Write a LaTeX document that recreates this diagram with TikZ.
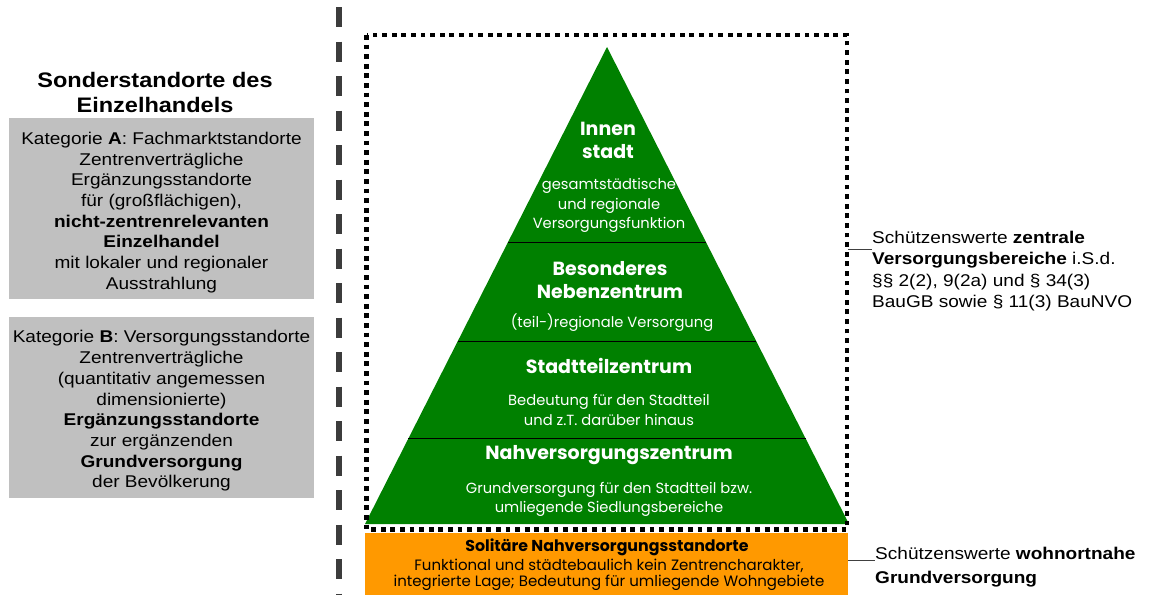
\documentclass[tikz,border=0pt]{standalone}
\usepackage{fontspec}
\setmainfont[FakeStretch=1.12]{Liberation Sans}
\newfontfamily\pyr{Poppins}
\usetikzlibrary{calc}
\definecolor{pgreen}{RGB}{0,128,0}
\definecolor{porange}{RGB}{255,153,0}
\definecolor{boxgray}{RGB}{192,192,192}
\definecolor{dashgray}{RGB}{60,60,60}
\begin{document}
\begin{tikzpicture}[x=1pt,y=-1pt,
  title/.style={align=center,font=\bfseries\fontsize{21}{25}\selectfont},
  graybox/.style={fill=boxgray,minimum width=305pt,minimum height=181pt,inner sep=0pt},
  boxtext/.style={align=center,inner sep=0pt,font=\fontsize{17}{20.7}\selectfont},
  sidetext/.style={align=left,font=\fontsize{17}{21.4}\selectfont,inner sep=0pt},
  pyrhead/.style={text=white,align=center,font=\pyr\bfseries\fontsize{19}{23}\selectfont},
  pyrtext/.style={text=white,align=center,font=\pyr\fontsize{14.7}{19.5}\selectfont},
  orhead/.style={align=center,font=\pyr\bfseries\fontsize{15.8}{18}\selectfont},
  ortext/.style={align=center,font=\pyr\fontsize{15}{16}\selectfont},
  sepline/.style={line width=1.1pt,black},
  leader/.style={line width=0.9pt,black!75},
  frame/.style={line width=4.6pt,dash pattern=on 4.8pt off 4.8pt},
  divider/.style={line width=5.5pt,dashgray,dash pattern=on 20pt off 14.5pt}
]
\useasboundingbox (0,0) rectangle (1154,595);

% left divider
\coordinate (dtop) at (339,7);
\coordinate (dbot) at (339,595);
\draw[divider] (dtop) -- (dbot);

% left column
\node[title] (ttl) at (155,92.5) {Sonderstandorte des\\Einzelhandels};
\node[graybox] (boxA) at (161.5,208.5) {};
\node[boxtext] (boxAtext) at ($(boxA.center)+(0,4)$) {Kategorie \textbf{A}: Fachmarktstandorte\\Zentrenverträgliche\\Ergänzungsstandorte\\für (großflächigen),\\\textbf{nicht-zentrenrelevanten}\\\textbf{Einzelhandel}\\mit lokaler und regionaler\\Ausstrahlung};
\node[graybox] (boxB) at (161.5,407.5) {};
\node[boxtext] (boxBtext) at ($(boxB.center)+(0,3.5)$) {Kategorie \textbf{B}: Versorgungsstandorte\\Zentrenverträgliche\\(quantitativ angemessen\\dimensionierte)\\\textbf{Ergänzungsstandorte}\\zur ergänzenden\\\textbf{Grundversorgung}\\der Bevölkerung};

% pyramid
\coordinate (apex) at (607,47);
\coordinate (bl) at (365,524);
\coordinate (br) at (849,524);
\fill[pgreen] (bl) -- (apex) -- (br) -- cycle;
\draw[sepline] ($(apex)!0.4097!(bl)$) -- ($(apex)!0.4097!(br)$);
\draw[sepline] ($(apex)!0.6176!(bl)$) -- ($(apex)!0.6176!(br)$);
\draw[sepline] ($(apex)!0.8214!(bl)$) -- ($(apex)!0.8214!(br)$);

\node[pyrhead] (innen) at (608,140) {Innen\\stadt};
\node[pyrtext] (innenT) at (609,205.5) {gesamtstädtische\\und regionale\\Versorgungsfunktion};
\node[pyrhead] (neben) at (610,280) {Besonderes\\Nebenzentrum};
\node[pyrtext] (nebenT) at (612,323) {(teil-)regionale Versorgung};
\node[pyrhead] (stz) at (609,366) {Stadtteilzentrum};
\node[pyrtext] (stzT) at (609,410) {Bedeutung für den Stadtteil\\und z.T. darüber hinaus};
\node[pyrhead] (nvz) at (609,455) {Nahversorgungszentrum};
\node[pyrtext] (nvzT) at (609,499.5) {Grundversorgung für den Stadtteil bzw.\\umliegende Siedlungsbereiche};

% orange band
\fill[porange] (365,533) rectangle (848,595);
\node[orhead] (sol) at (607,547) {Solitäre Nahversorgungsstandorte};
\node[ortext] (solT) at (609,575) {Funktional und städtebaulich kein Zentrencharakter,\\integrierte Lage; Bedeutung für umliegende Wohngebiete};

% dotted frame
\draw[frame] (366.5,35) rectangle (847,529.5);

% right labels
\node[sidetext,anchor=north west] (zvb) at (872,231) {Schützenswerte \textbf{zentrale}\\\textbf{Versorgungsbereiche} i.S.d.\\§§ 2(2), 9(2a) und § 34(3)\\BauGB sowie § 11(3) BauNVO};
\node[sidetext,anchor=north west,font=\fontsize{17}{23.5}\selectfont] (wgv) at (875,547) {Schützenswerte \textbf{wohnortnahe}\\\textbf{Grundversorgung}};
\coordinate (c1) at (848,249);
\coordinate (c2) at (848,560);
\draw[leader] (c1) -- (c1 -| zvb.west);
\draw[leader] (c2) -- (c2 -| wgv.west);
\end{tikzpicture}
\end{document}
